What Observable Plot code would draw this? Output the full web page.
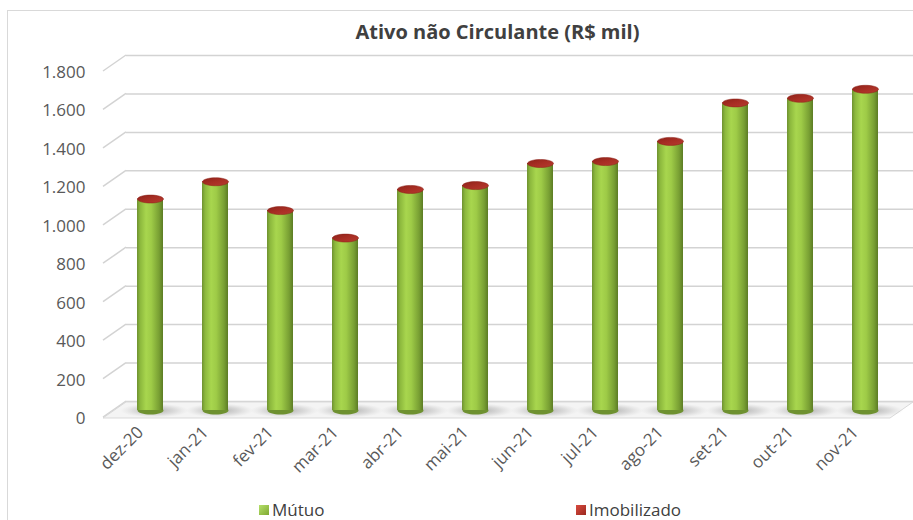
<!DOCTYPE html>
<html>
<head>
<meta charset="utf-8">
<script src="https://cdn.jsdelivr.net/npm/d3@7"></script>
<script src="https://cdn.jsdelivr.net/npm/@observablehq/plot@0.6"></script>
<style>
  html, body { margin: 0; padding: 0; background: #fff; }
  #wrap { position: relative; width: 913px; height: 520px; overflow: hidden; font-family: "Open Sans", sans-serif; }
  #border { position: absolute; left: 7px; top: 10px; width: 920px; height: 520px; border: 1px solid #d9d9d9; box-sizing: border-box; }
  #title { position: absolute; top: 18px; left: 0; width: 995px; text-align: center; font-weight: bold; font-size: 20px; color: #404040; }
  #chart { position: absolute; left: 0; top: 50px; }
  .leg { position: absolute; top: 498px; font-size: 17px; color: #404040; display: flex; align-items: center; }
  .sw { width: 10px; height: 10px; margin-right: 3px; display: inline-block; }
</style>
</head>
<body>
<div id="wrap">
  <div id="border"></div>
  <div id="title">Ativo não Circulante (R$ mil)</div>
  <div id="chart"></div>
  <div class="leg" style="left:259px"><span class="sw" style="background:linear-gradient(135deg,#b5e06a,#7fa832)"></span>Mútuo</div>
  <div class="leg" style="left:576px"><span class="sw" style="background:linear-gradient(135deg,#d94a3e,#9b2a20)"></span>Imobilizado</div>
</div>
<script>
const categories = ["dez-20","jan-21","fev-21","mar-21","abr-21","mai-21","jun-21","jul-21","ago-21","set-21","out-21","nov-21"];
const mutuo = [1095, 1185, 1035, 892, 1145, 1165, 1280, 1290, 1395, 1595, 1619, 1666];
const imobilizado = [5, 5, 5, 5, 5, 5, 5, 5, 5, 5, 5, 5];
const yTicks = [0, 200, 400, 600, 800, 1000, 1200, 1400, 1600, 1800];

const data = categories.map((c, i) => ({cat: c, mutuo: mutuo[i], imob: imobilizado[i], total: mutuo[i] + imobilizado[i]}));
const fmt = d3.formatLocale({decimal: ",", thousands: ".", grouping: [3], currency: ["R$", ""]}).format(",.0f");

const W = 913, H = 445;

const defs = () => {
  const d = d3.create("svg:defs");
  const g = d.append("linearGradient").attr("id", "cyl").attr("x1", 0).attr("x2", 1).attr("y1", 0).attr("y2", 0);
  [[0, "#6e9130"], [0.12, "#8cb83d"], [0.35, "#a8d64e"], [0.55, "#9ecb47"], [0.85, "#789f33"], [1, "#5c7c24"]]
    .forEach(([o, c]) => g.append("stop").attr("offset", o).attr("stop-color", c));
  const r = d.append("linearGradient").attr("id", "cap").attr("x1", 0).attr("x2", 1).attr("y1", 0).attr("y2", 1);
  [[0, "#8e2219"], [0.5, "#a82e24"], [1, "#b63a2f"]].forEach(([o, c]) => r.append("stop").attr("offset", o).attr("stop-color", c));
  const sh = d.append("radialGradient").attr("id", "shadow");
  [[0, "rgba(90,90,90,0.45)"], [0.6, "rgba(120,120,120,0.2)"], [1, "rgba(160,160,160,0)"]]
    .forEach(([o, c]) => sh.append("stop").attr("offset", o).attr("stop-color", c));
  return d.node();
};

// 3D walls: floor and side diagonals, drawn from the y scale
const walls = (index, scales, values, dims) => {
  const y = scales.y;
  const L = dims.marginLeft, R = dims.width - dims.marginRight;
  const g = d3.create("svg:g");
  g.append("path")
    .attr("d", `M${L - 12},${y(0) + 8}L${L + 11},${y(0) - 8}L${R + 14},${y(0) - 8}L${R - 9},${y(0) + 8}Z`)
    .attr("fill", "#f4f4f4").attr("stroke", "#d9d9d9");
  for (const t of yTicks) {
    g.append("line").attr("x1", L - 12).attr("y1", y(t) + 7).attr("x2", L + 11).attr("y2", y(t) - 9)
      .attr("stroke", "#d3d3d3").attr("stroke-width", 1.5);
  }
  return g.node();
};

const ellipse = (ry) => ({
  draw(ctx, size) {
    const rx = Math.sqrt(size / Math.PI), k = 0.5523;
    ctx.moveTo(-rx, 0);
    ctx.bezierCurveTo(-rx, -ry * k, -rx * k, -ry, 0, -ry);
    ctx.bezierCurveTo(rx * k, -ry, rx, -ry * k, rx, 0);
    ctx.bezierCurveTo(rx, ry * k, rx * k, ry, 0, ry);
    ctx.bezierCurveTo(-rx * k, ry, -rx, ry * k, -rx, 0);
    ctx.closePath();
  }
});
const capSym = {draw(ctx, size) { ellipse(4).draw(ctx, size); }};
const botSym = {draw(ctx, size) { ellipse(4).draw(ctx, size); }};
const shadowSym = {draw(ctx, size) { ellipse(7).draw(ctx, size); }};

const chart = Plot.plot({
  width: W, height: H,
  marginLeft: 115, marginRight: 14, marginTop: 14, marginBottom: 85,
  style: {fontFamily: "Open Sans, sans-serif", fontSize: "17px", color: "#595959", background: "transparent", overflow: "visible"},
  x: {domain: categories, paddingInner: 0.6, paddingOuter: 0.3, label: null},
  y: {domain: [0, 1800], label: null, axis: null},
  marks: [
    defs,
    Plot.ruleY(yTicks, {stroke: "#d3d3d3", strokeWidth: 1.5, dy: -9, insetLeft: 11, insetRight: -14}),
    walls,
    Plot.dot(data, {x: "cat", y: 0, r: 34, symbol: shadowSym, fill: "url(#shadow)", stroke: null, dx: 4, dy: 0}),
    Plot.text(yTicks, {y: d => d, text: d => fmt(d), frameAnchor: "left", textAnchor: "end", dx: -30, dy: 8, fill: "#595959", fontSize: 17}),
    Plot.dot(data, {x: "cat", y: 0, r: 13, symbol: botSym, fill: "#6e9130", stroke: null}),
    Plot.barY(data, {x: "cat", y1: 0, y2: "mutuo", fill: "url(#cyl)"}),
    Plot.barY(data, {x: "cat", y1: "mutuo", y2: "total", fill: "#a82e24"}),
    Plot.dot(data, {x: "cat", y: "total", r: 13, symbol: capSym, fill: "url(#cap)", stroke: "#8a1f17", strokeWidth: 0.5}),
    Plot.axisX({tickRotate: -45, tickSize: 0, tickPadding: 19, dx: -10, fill: "#595959", fontSize: 17})
  ]
});
document.getElementById("chart").appendChild(chart);
</script>
</body>
</html>
